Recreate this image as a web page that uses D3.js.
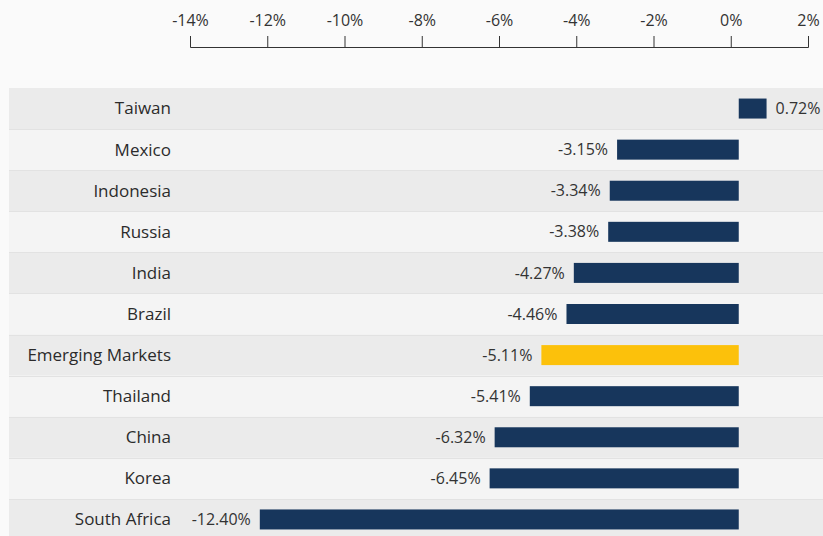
<!DOCTYPE html>
<html>
<head>
<meta charset="utf-8">
<script src="https://cdn.jsdelivr.net/npm/d3@7"></script>
<style>
  html, body { margin: 0; padding: 0; background: #fafafa; }
  svg { display: block; font-family: "Open Sans", sans-serif; }
  .axis path, .axis line { stroke: #333; }
  .axis text { font-size: 16px; fill: #333; font-family: "Open Sans", sans-serif; }
</style>
</head>
<body>
<div class="chart"></div>
<script>
var countries = ["Taiwan", "Mexico", "Indonesia", "Russia", "India", "Brazil",
                 "Emerging Markets", "Thailand", "China", "Korea", "South Africa"];
var returns = [0.72, -3.15, -3.34, -3.38, -4.27, -4.46, -5.11, -5.41, -6.32, -6.45, -12.40];
var tickValues = [-14, -12, -10, -8, -6, -4, -2, 0, 2];
var highlight = "Emerging Markets";

var data = countries.map(function(c, i){ return {name: c, value: returns[i]}; });

var width = 823, height = 536;

var svg = d3.select(".chart").append("svg")
    .attr("width", width)
    .attr("height", height);

// axis scale and the bar scale (bars sit a few px right of the axis in the original)
var x = d3.scaleLinear().domain([-14, 2]).range([190, 808]);
var xBar = d3.scaleLinear().domain([-14, 2]).range([198, 816]);

var y = d3.scaleBand().domain(countries).range([88, 540]).paddingInner(0);

// row backgrounds
svg.selectAll(".row")
    .data(data)
    .enter().append("rect")
    .attr("class", "row")
    .attr("x", 9)
    .attr("y", function(d){ return y(d.name); })
    .attr("width", width - 9)
    .attr("height", y.bandwidth())
    .attr("fill", function(d, i){ return i % 2 === 0 ? "#ebebeb" : "#f4f4f4"; });

svg.selectAll(".sep")
    .data(data.slice(1))
    .enter().append("line")
    .attr("class", "sep")
    .attr("x1", 9).attr("x2", width)
    .attr("y1", function(d){ return Math.round(y(d.name)) + 0.5; })
    .attr("y2", function(d){ return Math.round(y(d.name)) + 0.5; })
    .attr("stroke", "#e2e2e2");

// axis on top
var x_axis = d3.axisTop(x)
    .tickValues(tickValues)
    .tickSizeInner(11)
    .tickSizeOuter(11)
    .tickPadding(10)
    .tickFormat(function(d){ return d + "%"; });

svg.append("g")
    .attr("class", "axis x")
    .attr("transform", "translate(0, 47)")
    .call(x_axis)
    .call(function(g){ g.selectAll("text").attr("dy", "0"); });

// category labels
svg.selectAll(".label")
    .data(data)
    .enter().append("text")
    .attr("class", "label")
    .attr("x", 171)
    .attr("y", function(d){ return y(d.name) + y.bandwidth() / 2; })
    .attr("dy", "0.35em")
    .attr("text-anchor", "end")
    .style("font-size", "17px")
    .style("fill", "#2b2b2b")
    .text(function(d){ return d.name; });

// bars
var barH = 20;
svg.selectAll(".bar")
    .data(data)
    .enter().append("rect")
    .attr("class", "bar")
    .attr("x", function(d){ return Math.min(xBar(0), xBar(d.value)); })
    .attr("y", function(d){ return y(d.name) + (y.bandwidth() - barH) / 2; })
    .attr("width", function(d){ return Math.abs(xBar(d.value) - xBar(0)); })
    .attr("height", barH)
    .attr("fill", function(d){ return d.name === highlight ? "#fcc10b" : "#17365c"; });

// value labels
svg.selectAll(".val")
    .data(data)
    .enter().append("text")
    .attr("class", "val")
    .attr("x", function(d){ return d.value < 0 ? xBar(d.value) - 9 : xBar(d.value) + 9; })
    .attr("y", function(d){ return y(d.name) + y.bandwidth() / 2; })
    .attr("dy", "0.35em")
    .attr("text-anchor", function(d){ return d.value < 0 ? "end" : "start"; })
    .style("font-size", "16px")
    .style("fill", "#333")
    .text(function(d){ return d.value.toFixed(2) + "%"; });
</script>
</body>
</html>
